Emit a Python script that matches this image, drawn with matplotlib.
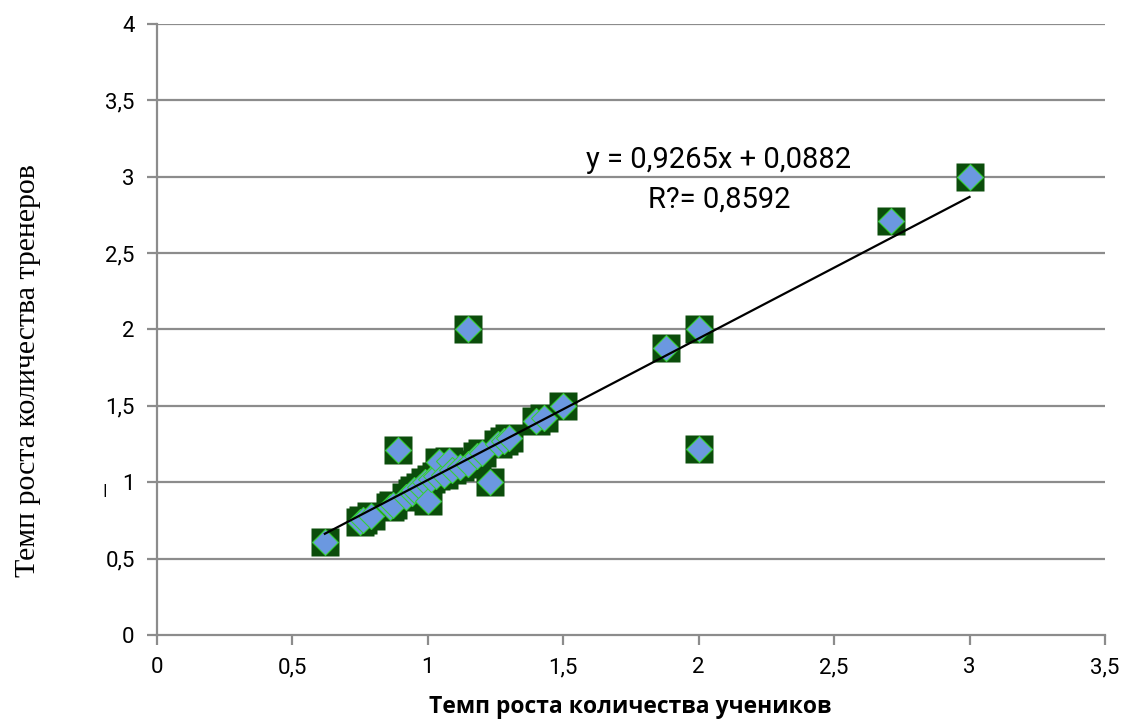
import matplotlib
matplotlib.use('Agg')
import matplotlib.pyplot as plt

# growth rate of pupils (x) vs growth rate of coaches (y)
pupils = [0.62, 0.75, 0.76, 0.79, 0.86, 0.87, 0.89, 0.92, 0.94, 0.95,
          0.97, 0.99, 1.00, 1.01, 1.03, 1.04, 1.06, 1.08, 1.09, 1.12,
          1.15, 1.15, 1.18, 1.20, 1.23, 1.26, 1.28, 1.30, 1.40, 1.43,
          1.50, 1.88, 2.00, 2.00, 2.71, 3.00]
coaches = [0.61, 0.74, 0.75, 0.78, 0.84, 0.85, 1.21, 0.90, 0.93, 0.95,
           0.97, 1.00, 0.88, 1.02, 1.04, 1.13, 1.05, 1.14, 1.08, 1.10,
           2.00, 1.12, 1.17, 1.19, 1.00, 1.25, 1.27, 1.29, 1.40, 1.42,
           1.50, 1.88, 2.00, 1.22, 2.71, 3.00]

slope = 0.9265
intercept = 0.0882
r2 = 0.8592

x_ticks = [0, 0.5, 1, 1.5, 2, 2.5, 3, 3.5]
y_ticks = [0, 0.5, 1, 1.5, 2, 2.5, 3, 3.5, 4]

def comma(v):
    return ('%g' % v).replace('.', ',')

fig = plt.figure(figsize=(11.39, 7.27), dpi=100)
ax = fig.add_axes([0.1378, 0.1266, 0.8323, 0.8404])

grid_col = '#8c8c8c'
for yv in y_ticks[1:]:
    ax.axhline(yv, color=grid_col, lw=1.6, zorder=1)

# markers: dark green square with a blue diamond on top
for xv, yv in zip(pupils, coaches):
    ax.plot(xv, yv, 's', ms=20, color='#0b4d0b', mec='none', zorder=3)
    ax.plot(xv, yv, 'D', ms=13.5, color='#6b98e0', mec='#35d035',
            mew=0.8, zorder=4)

# linear trend
x0, x1 = min(pupils), max(pupils)
ax.plot([x0, x1], [slope * x0 + intercept, slope * x1 + intercept],
        color='black', lw=1.6, zorder=5)

ax.text(2.075, 3.11, 'y = %sx + %s' % (comma(slope), comma(intercept)),
        fontsize=21, family='Roboto', ha='center', va='center')
ax.text(2.075, 2.85, 'R?= %s' % comma(r2), fontsize=21, family='Roboto',
        ha='center', va='center')

ax.set_xlim(0, 3.5)
ax.set_ylim(0, 4)
ax.set_xticks(x_ticks)
ax.set_yticks(y_ticks)
ax.set_xticklabels([comma(v) for v in x_ticks], family='Roboto', fontsize=16)
ax.set_yticklabels([comma(v) for v in y_ticks], family='Roboto', fontsize=16)
ax.tick_params(axis='both', length=7, width=1.6, color=grid_col, pad=9)
for s in ['top', 'right']:
    ax.spines[s].set_visible(False)
for s in ['left', 'bottom']:
    ax.spines[s].set_color(grid_col)
    ax.spines[s].set_linewidth(1.6)

fig.text(0.553, 0.028, 'Темп роста количества учеников', ha='center',
         va='center', fontsize=16.5, fontweight='bold', family='Open Sans')
fig.text(0.025, 0.49, 'Темп роста количества тренеров', ha='center',
         va='center', rotation=90, fontsize=21.5, family='Liberation Serif')
fig.text(0.0915, 0.325, '|', ha='center', va='center',
         fontsize=9, fontweight='bold')

fig.savefig('out.png', dpi=100)
